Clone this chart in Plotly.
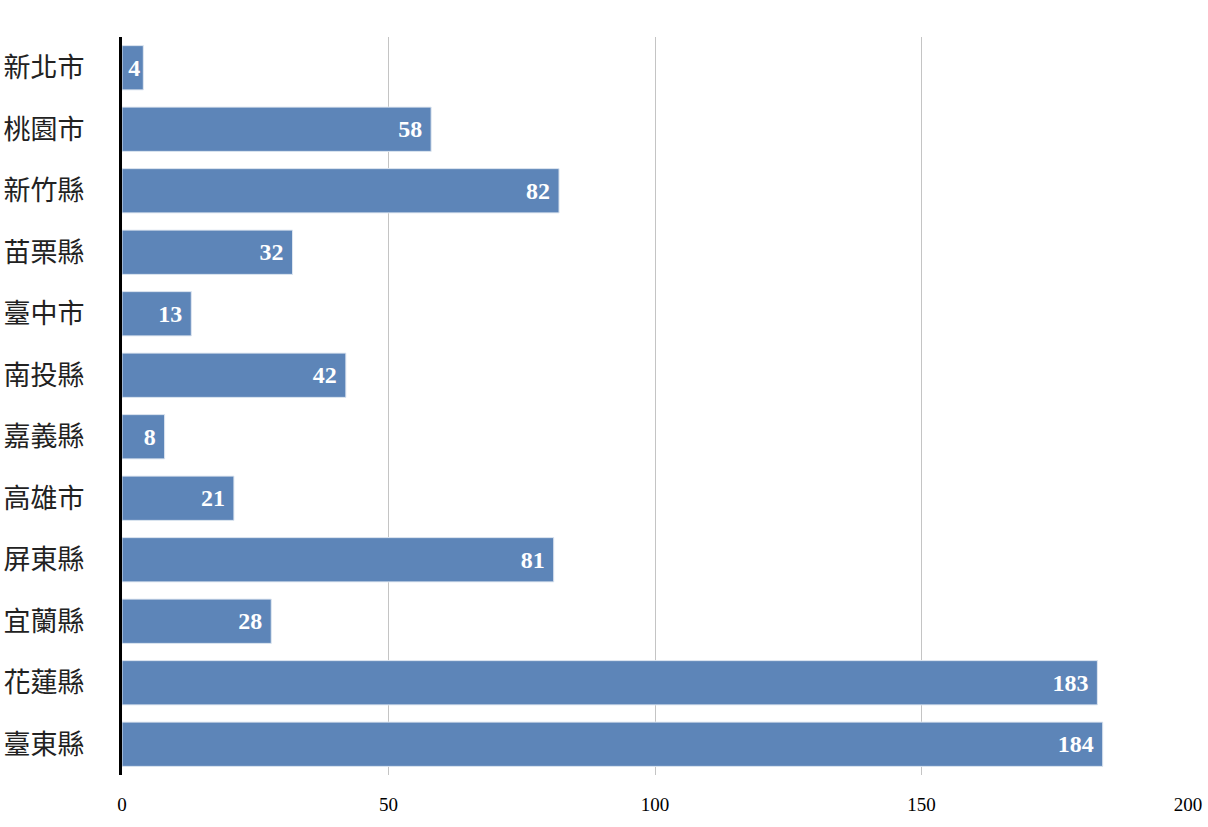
import plotly.graph_objects as go

categories = ["新北市", "桃園市", "新竹縣", "苗栗縣", "臺中市", "南投縣", "嘉義縣", "高雄市", "屏東縣", "宜蘭縣", "花蓮縣", "臺東縣"]
values = [4, 58, 82, 32, 13, 42, 8, 21, 81, 28, 183, 184]
x_ticks = [0, 50, 100, 150, 200]

fig = go.Figure(go.Bar(
    x=values, y=categories, orientation="h",
    marker=dict(color="#5d85b8", line=dict(color="#dfe7f1", width=1)),
    text=[str(v) + (" " if v >= 5 else "") for v in values],
    textposition="inside", insidetextanchor="end",
    textfont=dict(family="Liberation Serif", size=24, color="white", weight="bold"),
    cliponaxis=False,
))

fig.update_layout(
    width=1208, height=827,
    margin=dict(l=122, r=20, t=37, b=52, autoexpand=False),
    paper_bgcolor="white", plot_bgcolor="white",
    bargap=0.28, showlegend=False,
    uniformtext=dict(minsize=8, mode="show"),
)
fig.update_xaxes(
    range=[0, 200], tickvals=x_ticks, showgrid=True, gridcolor="#c4c4c4", gridwidth=1,
    zeroline=False, showline=False, automargin=False,
    tickfont=dict(family="Liberation Serif", size=19, color="black"),
    ticklabelstandoff=16,
)
fig.update_yaxes(
    categoryorder="array", categoryarray=categories, autorange="reversed",
    showgrid=False, zeroline=False, showline=True, linecolor="black", linewidth=3,
    automargin=False,
    tickfont=dict(family="Noto Sans CJK TC", size=27, color="#222"),
    ticklabelstandoff=29,
)

fig.write_html(
    "out.html",
    config={"displayModeBar": False},
    post_script="document.body.style.margin='0';document.body.style.overflow='hidden';",
)
